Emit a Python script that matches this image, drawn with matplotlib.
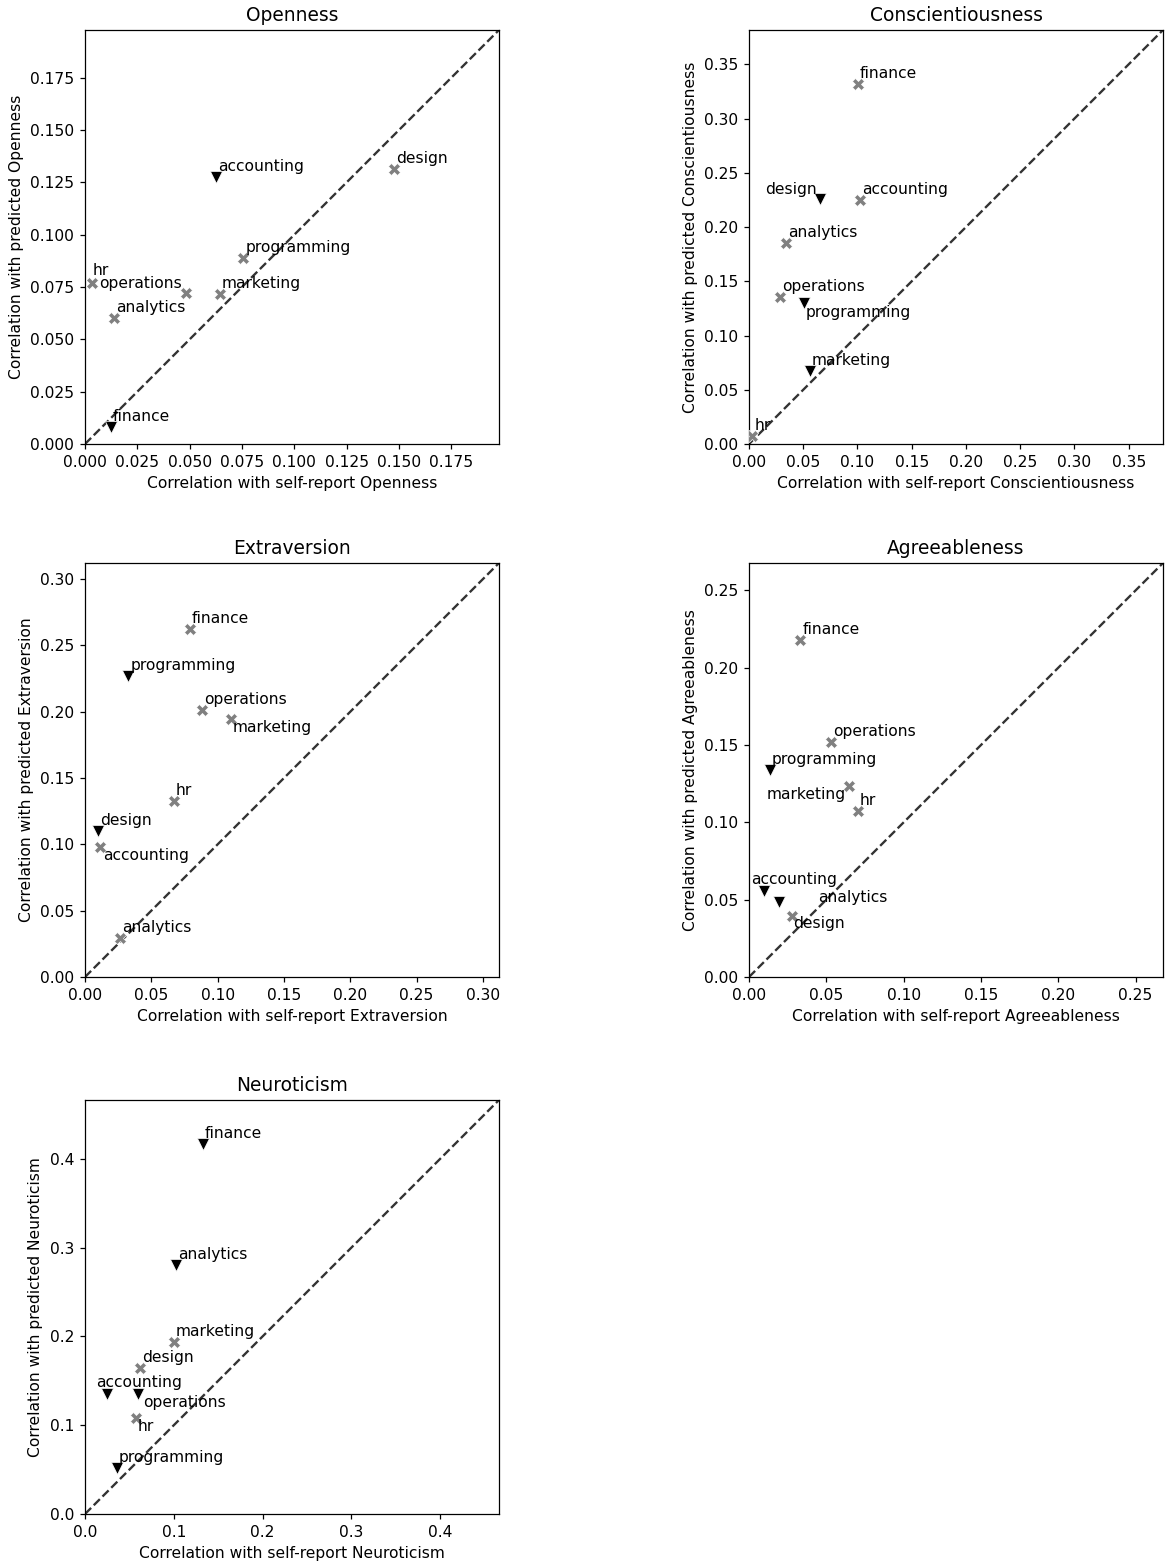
import matplotlib
matplotlib.use("Agg")
import matplotlib.pyplot as plt

# ---------------- data ----------------
categories = ['accounting', 'analytics', 'design', 'finance', 'hr',
              'marketing', 'operations', 'programming']

traits = ['Openness', 'Conscientiousness', 'Extraversion',
          'Agreeableness', 'Neuroticism']

openness_self = [0.0626, 0.0137, 0.1478, 0.0124, 0.0035, 0.0643, 0.0483, 0.0757]
openness_pred = [0.1276, 0.0603, 0.1313, 0.0083, 0.0770, 0.0718, 0.0722, 0.0889]
openness_type = ['v', 'X', 'X', 'v', 'X', 'X', 'X', 'X']

conscientiousness_self = [0.1024, 0.0343, 0.0656, 0.1002, 0.0030, 0.0561, 0.0285, 0.0506]
conscientiousness_pred = [0.2247, 0.1851, 0.2254, 0.3316, 0.0075, 0.0672, 0.1351, 0.1302]
conscientiousness_type = ['X', 'X', 'v', 'X', 'X', 'v', 'X', 'v']

extraversion_self = [0.0111, 0.0266, 0.0101, 0.0791, 0.0668, 0.1103, 0.0884, 0.0327]
extraversion_pred = [0.0979, 0.0294, 0.1100, 0.2621, 0.1328, 0.1943, 0.2016, 0.2270]
extraversion_type = ['X', 'X', 'v', 'X', 'X', 'X', 'X', 'v']

agreeableness_self = [0.0097, 0.0194, 0.0276, 0.0332, 0.0705, 0.0647, 0.0532, 0.0134]
agreeableness_pred = [0.0554, 0.0483, 0.0397, 0.2177, 0.1075, 0.1237, 0.1522, 0.1341]
agreeableness_type = ['v', 'v', 'X', 'X', 'X', 'X', 'X', 'v']

neuroticism_self = [0.0243, 0.1021, 0.0617, 0.1327, 0.0579, 0.1002, 0.0602, 0.0359]
neuroticism_pred = [0.1352, 0.2801, 0.1643, 0.4161, 0.1083, 0.1938, 0.1352, 0.0515]
neuroticism_type = ['v', 'v', 'X', 'v', 'X', 'X', 'v', 'v']

data = {
    'Openness': (openness_self, openness_pred, openness_type),
    'Conscientiousness': (conscientiousness_self, conscientiousness_pred, conscientiousness_type),
    'Extraversion': (extraversion_self, extraversion_pred, extraversion_type),
    'Agreeableness': (agreeableness_self, agreeableness_pred, agreeableness_type),
    'Neuroticism': (neuroticism_self, neuroticism_pred, neuroticism_type),
}

# ---------------- layout / style ----------------
SC = 1.12  # overall scale of the reference rendering
plt.rcParams.update({
    'axes.linewidth': 0.8 * SC,
    'xtick.major.size': 3.5 * SC,
    'ytick.major.size': 3.5 * SC,
    'xtick.major.width': 0.8 * SC,
    'ytick.major.width': 0.8 * SC,
    'xtick.major.pad': 3.5 * SC,
    'ytick.major.pad': 3.5 * SC,
    'xtick.labelsize': 10 * SC,
    'ytick.labelsize': 10 * SC,
    'axes.labelpad': 4 * SC,
    'axes.titlepad': 6 * SC,
})

W, H = 1170, 1567
AX = 414
ax_boxes = {  # left, top in pixels
    'Openness': (85, 30),
    'Conscientiousness': (749, 30),
    'Extraversion': (85, 563),
    'Agreeableness': (749, 563),
    'Neuroticism': (85, 1100),
}

default_off = (2, 6, 'left')
label_offsets = {
    'Openness': {'operations': (-4, 5, 'right'),
                 'hr': (0, 8, 'left')},
    'Conscientiousness': {'design': (-3, 5, 'right'),
                          'programming': (2, -14, 'left')},
    'Extraversion': {'marketing': (1, -13, 'left'),
                     'accounting': (3, -13, 'left')},
    'Agreeableness': {'marketing': (-3.5, -13, 'right'),
                      'accounting': (-13, 7, 'left'),
                      'analytics': (39, 0, 'left'),
                      'design': (1.5, -12.5, 'left')},
    'Neuroticism': {'accounting': (-10, 7, 'left'),
                    'operations': (5, -13.5, 'left'),
                    'hr': (1.5, -13.5, 'left')},
}

marker_colors = {'X': 'grey', 'v': 'black'}

fig = plt.figure(figsize=(W / 100, H / 100), dpi=100)

for trait in traits:
    xs, ys, types = data[trait]
    left, top = ax_boxes[trait]
    ax = fig.add_axes([left / W, (H - top - AX) / H, AX / W, AX / H])
    lim = max(max(xs), max(ys)) + 0.05
    ax.plot([0, lim], [0, lim], ls='--', color='#333333', lw=1.5 * SC, zorder=1)
    for m in ['X', 'v']:
        px = [x for x, t in zip(xs, types) if t == m]
        py = [y for y, t in zip(ys, types) if t == m]
        ax.scatter(px, py, marker=m, s=75, c=marker_colors[m],
                   edgecolors='white', linewidths=0.5, zorder=3)
    for cat, x, y in zip(categories, xs, ys):
        dx, dy, ha = label_offsets[trait].get(cat, default_off)
        ax.annotate(cat, (x, y), xytext=(dx, dy), textcoords='offset pixels',
                    ha=ha, va='baseline', fontsize=10 * SC, zorder=4)
    ax.set_xlim(0, lim)
    ax.set_ylim(0, lim)
    ax.set_title(trait, fontsize=12 * SC)
    ax.set_xlabel('Correlation with self-report ' + trait, fontsize=10 * SC)
    ax.set_ylabel('Correlation with predicted ' + trait, fontsize=10 * SC)

fig.savefig('out.png', dpi=100)
